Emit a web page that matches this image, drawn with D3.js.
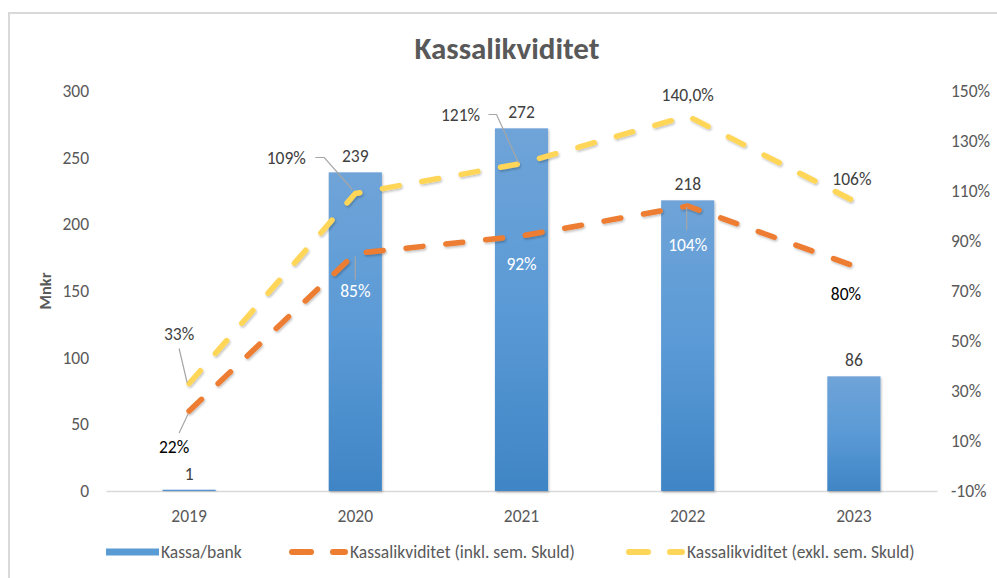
<!DOCTYPE html>
<html>
<head>
<meta charset="utf-8">
<script src="https://d3js.org/d3.v7.min.js"></script>
<style>
  body { margin: 0; background: #fff; }
  svg text { font-family: Carlito, "Liberation Sans Narrow", "Liberation Sans", sans-serif; }
</style>
</head>
<body>
<svg width="997" height="578"></svg>
<script>
// data
var years = ["2019", "2020", "2021", "2022", "2023"];
var kassa = [1, 239, 272, 218, 86];
var inkl = [22, 85, 92, 104, 80];
var exkl = [33, 109, 121, 140, 106];
var exklLabels = ["33%", "109%", "121%", "140,0%", "106%"];
var inklLabels = ["22%", "85%", "92%", "104%", "80%"];
var leftTicks = [0, 50, 100, 150, 200, 250, 300];
var rightTicks = [-10, 10, 30, 50, 70, 90, 110, 130, 150];

var svg = d3.select("svg");
var margin = {top: 91, left: 106, right: 60, bottom: 87};
var W = 997, H = 578;
var fs = 17.5;

// frame
svg.append("rect")
  .attr("x", 9).attr("y", 13).attr("width", 1000).attr("height", 600)
  .attr("fill", "none").attr("stroke", "#d9d9d9").attr("stroke-width", 2);

var defs = svg.append("defs");
var grad = defs.append("linearGradient").attr("id", "barGrad")
  .attr("x1", 0).attr("y1", 0).attr("x2", 0).attr("y2", 1);
grad.append("stop").attr("offset", "0%").attr("stop-color", "#6fa4d8");
grad.append("stop").attr("offset", "50%").attr("stop-color", "#5a9ad6");
grad.append("stop").attr("offset", "100%").attr("stop-color", "#4085c5");
var sh = defs.append("filter").attr("id", "shadow")
  .attr("x", "-20%").attr("y", "-20%").attr("width", "140%").attr("height", "140%");
sh.append("feDropShadow").attr("dx", 1).attr("dy", 1.5).attr("stdDeviation", 1.2)
  .attr("flood-color", "#000").attr("flood-opacity", 0.25);

var x = d3.scaleBand().domain(years)
  .range([margin.left, W - margin.right])
  .paddingInner(0.68).paddingOuter(0.34);
var yL = d3.scaleLinear().domain([0, 300]).range([H - margin.bottom, margin.top]);
var yR = d3.scaleLinear().domain([-10, 150]).range([H - margin.bottom, margin.top]);
var cx = function(i) { return x(years[i]) + x.bandwidth() / 2; };

// title
svg.append("text").attr("x", 507).attr("y", 59)
  .attr("text-anchor", "middle").attr("font-size", 31).attr("font-weight", "bold")
  .attr("fill", "#595959").text("Kassalikviditet");

// axes
var gL = svg.append("g").attr("transform", "translate(" + margin.left + ",0)")
  .call(d3.axisLeft(yL).tickValues(leftTicks).tickSize(0).tickPadding(17));
gL.select(".domain").remove();
var gR = svg.append("g").attr("transform", "translate(" + (W - margin.right) + ",0)")
  .call(d3.axisRight(yR).tickValues(rightTicks).tickSize(0).tickPadding(14)
    .tickFormat(function(d) { return d + "%"; }));
gR.select(".domain").remove();
var gX = svg.append("g").attr("transform", "translate(0," + (H - margin.bottom) + ")")
  .call(d3.axisBottom(x).tickSize(0).tickPadding(19));
gX.select(".domain").attr("stroke", "#d9d9d9").attr("stroke-width", 1.5);
svg.selectAll(".tick text").attr("font-size", fs).attr("fill", "#595959")
  .attr("font-family", "Carlito, 'Liberation Sans Narrow', 'Liberation Sans', sans-serif");

svg.append("text")
  .attr("transform", "translate(51," + yL(150) + ") rotate(-90)")
  .attr("text-anchor", "middle").attr("font-size", 16.5).attr("font-weight", "bold")
  .attr("fill", "#595959").text("Mnkr");

// bars
svg.append("g").selectAll("rect").data(kassa).join("rect")
  .attr("x", function(d, i) { return x(years[i]); })
  .attr("y", function(d) { return yL(d); })
  .attr("width", x.bandwidth())
  .attr("height", function(d) { return yL(0) - yL(d); })
  .attr("fill", "url(#barGrad)")
  .attr("filter", "url(#shadow)");
svg.append("g").selectAll("text").data(kassa).join("text")
  .attr("x", function(d, i) { return cx(i); })
  .attr("y", function(d) { return yL(d) - 10; })
  .attr("text-anchor", "middle").attr("font-size", fs).attr("fill", "#404040")
  .text(function(d) { return d; });

// lines
function drawLine(vals, color) {
  var line = d3.line().x(function(d, i) { return cx(i); }).y(function(d) { return yR(d); });
  svg.append("path").datum(vals)
    .attr("d", line).attr("fill", "none").attr("stroke", color)
    .attr("stroke-width", 5.5).attr("stroke-linecap", "round").attr("stroke-linejoin", "round")
    .attr("stroke-dasharray", "17,23")
    .attr("filter", "url(#shadow)");
}
drawLine(inkl, "#ed7d31");
drawLine(exkl, "#ffd659");

// label layout (offsets from the point) and leader lines
var exklOff = [[-10, -44], [-69, -30], [-61, -43], [0, -15], [-2, -16]];
var inklOff = [[-15, 42], [0, 43], [0, 34], [0, 45], [-8, 34]];
var inklColor = ["#000", "#fff", "#fff", "#fff", "#000"];
var exklLeaders = [
  [[-10, -35], [-2, -1]],
  [[-40, -36], [-31, -36], [-3, -4]],
  [[-33, -49], [-25, -49], [-3, -1]],
  null, null
];
var inklLeaders = [
  [[-10, 22], [-1, 3]],
  [[0, 3], [0, 26]],
  null,
  [[-1, 1], [-1, 24]],
  null
];

function leader(pts, i, vals) {
  if (!pts) return;
  svg.append("path")
    .attr("d", d3.line()(pts.map(function(p) { return [cx(i) + p[0], yR(vals[i]) + p[1]]; })))
    .attr("fill", "none").attr("stroke", "#a6a6a6").attr("stroke-width", 1.2);
}
exklLeaders.forEach(function(p, i) { leader(p, i, exkl); });
inklLeaders.forEach(function(p, i) { leader(p, i, inkl); });

svg.append("g").selectAll("text").data(exkl).join("text")
  .attr("x", function(d, i) { return cx(i) + exklOff[i][0]; })
  .attr("y", function(d, i) { return yR(d) + exklOff[i][1]; })
  .attr("text-anchor", "middle").attr("font-size", fs).attr("fill", "#404040")
  .text(function(d, i) { return exklLabels[i]; });
svg.append("g").selectAll("text").data(inkl).join("text")
  .attr("x", function(d, i) { return cx(i) + inklOff[i][0]; })
  .attr("y", function(d, i) { return yR(d) + inklOff[i][1]; })
  .attr("text-anchor", "middle").attr("font-size", fs)
  .attr("fill", function(d, i) { return inklColor[i]; })
  .text(function(d, i) { return inklLabels[i]; });

// legend
var leg = svg.append("g").attr("transform", "translate(0,552)");
leg.append("rect").attr("x", 106).attr("y", -3.5).attr("width", 53).attr("height", 7).attr("fill", "#5b9bd5");
leg.append("text").attr("x", 161).attr("y", 6).attr("font-size", fs).attr("fill", "#595959").text("Kassa/bank");
[["#ed7d31", 292, 350, "Kassalikviditet (inkl. sem. Skuld)"],
 ["#ffd659", 629, 687, "Kassalikviditet (exkl. sem. Skuld)"]].forEach(function(l) {
  leg.append("line").attr("x1", l[1]).attr("x2", l[1] + 53).attr("y1", 0).attr("y2", 0)
    .attr("stroke", l[0]).attr("stroke-width", 6).attr("stroke-linecap", "round")
    .attr("stroke-dasharray", "19,22");
  leg.append("text").attr("x", l[2]).attr("y", 6).attr("font-size", fs).attr("fill", "#595959").text(l[3]);
});
</script>
</body>
</html>
